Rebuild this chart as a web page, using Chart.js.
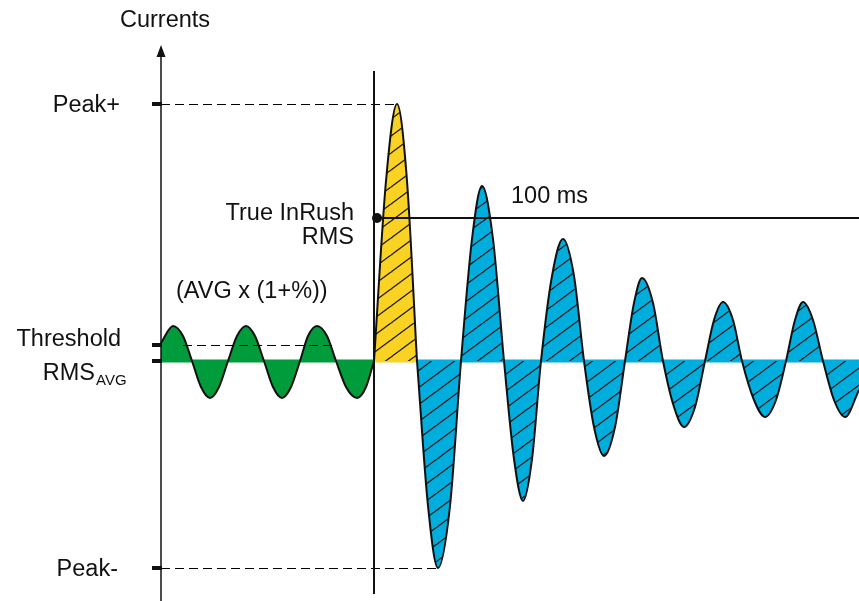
<!DOCTYPE html>
<html>
<head>
<meta charset="utf-8">
<script src="https://cdn.jsdelivr.net/npm/chart.js@4.4.1/dist/chart.umd.min.js"></script>
<style>
  html, body { margin: 0; padding: 0; background: #fff; }
  #wrap { width: 859px; height: 601px; position: relative; }
</style>
</head>
<body>
<div id="wrap"><canvas id="inrush"></canvas></div>
<script>
// Steady state before the inrush (green)
const greenTimes = [161, 173, 183, 192, 201, 210, 219, 228, 237, 246, 255, 264, 273, 282, 291, 300, 308, 317, 327, 336, 346, 357, 366, 374];
const greenCurrents = [18, 35, 25, 0, -26, -37, -26, 0, 25, 35, 25, 0, -26, -37, -26, 0, 25, 35, 25, 0, -26, -37, -26, 0];

// First half cycle of the inrush (yellow)
const yellowTimes = [374, 386, 397, 407, 417];
const yellowCurrents = [0, 180, 257, 180, 0];

// Damped oscillation afterwards (blue)
const blueTimes = [417, 428, 438, 450, 461, 472, 482, 493, 504, 514, 523, 532, 541, 552, 563, 574, 584,
    594, 604, 615, 625, 634, 642, 653, 663, 674, 684, 695, 705, 714, 723, 733, 742,
    754, 765, 776, 786, 795, 803, 813, 823, 834, 845, 859];
const blueCurrents = [0, -145, -207, -145, 0, 122, 175, 122, 0, -98, -140, -98, 0, 85, 122, 85, 0,
    -66, -95, -66, 0, 58, 83, 58, 0, -46, -66, -46, 0, 41, 59, 41, 0,
    -39, -56, -39, 0, 41, 59, 41, 0, -39, -56, -29];

// Levels marked on the current axis
const levelNames = ['Peak+', 'Threshold', 'RMS', 'Peak-'];
const levelValues = [257, 16, 0, -207];
const trueInrushRms = 143;
const inrushStart = 374;
const windowEnd = 859;

const GREEN = 'rgb(0,155,58)';
const YELLOW = 'rgb(250,210,35)';
const BLUE = 'rgb(0,174,222)';
const FONT = '"Liberation Sans", Arial, sans-serif';

function toPoints(xs, ys) {
    return xs.map((x, i) => ({ x: x, y: ys[i] }));
}

// hachures diagonales
function hatch(color) {
    const w = 23, h = 17;
    const c = document.createElement('canvas');
    c.width = w; c.height = h;
    const g = c.getContext('2d');
    g.fillStyle = color;
    g.fillRect(0, 0, w, h);
    g.strokeStyle = '#1a1a1a';
    g.lineWidth = 1.3;
    g.beginPath();
    [-1, 0, 1].forEach(k => {
        g.moveTo(k * w, h);
        g.lineTo(k * w + w, 0);
    });
    g.moveTo(-w, 2 * h); g.lineTo(w, 0);
    g.moveTo(0, 0); g.lineTo(2 * w, -h);
    g.stroke();
    return document.getElementById('inrush').getContext('2d').createPattern(c, 'repeat');
}

function wave(label, xs, ys, color) {
    return {
        label: label,
        data: toPoints(xs, ys),
        borderColor: '#111',
        borderWidth: 2,
        backgroundColor: hatch(color),
        fill: 'origin',
        cubicInterpolationMode: 'monotone',
        pointRadius: 0,
        order: 1
    };
}

function band(xs, color) {
    return {
        label: 'band',
        data: toPoints(xs, [0, 0]),
        borderColor: color,
        borderWidth: 3,
        fill: false,
        pointRadius: 0,
        order: 2
    };
}

const greenWave = wave('steady', greenTimes, greenCurrents, GREEN);
greenWave.backgroundColor = GREEN;

const annotations = {
    id: 'annotations',
    afterDatasetsDraw(chart) {
        const ctx = chart.ctx;
        const xs = chart.scales.x, ys = chart.scales.y;
        const ax = xs.getPixelForValue(greenTimes[0]);
        const top = chart.chartArea.top, bottom = chart.chartArea.bottom;
        ctx.save();
        ctx.strokeStyle = '#111';
        ctx.fillStyle = '#111';

        // axe des courants
        ctx.lineWidth = 1.5;
        ctx.beginPath();
        ctx.moveTo(ax, bottom);
        ctx.lineTo(ax, top + 52);
        ctx.stroke();
        ctx.beginPath();
        ctx.moveTo(ax, top + 45);
        ctx.lineTo(ax - 4.5, top + 57);
        ctx.lineTo(ax + 4.5, top + 57);
        ctx.closePath();
        ctx.fill();

        // ticks
        ctx.lineWidth = 4;
        levelValues.forEach(v => {
            const py = ys.getPixelForValue(v);
            ctx.beginPath();
            ctx.moveTo(ax - 9, py);
            ctx.lineTo(ax + 1, py);
            ctx.stroke();
        });

        // pointillés
        ctx.lineWidth = 1;
        ctx.strokeStyle = '#000';
        ctx.setLineDash([9, 5]);
        const dash = (x0, x1, v) => {
            const py = Math.round(ys.getPixelForValue(v)) + 0.5;
            ctx.beginPath();
            ctx.moveTo(xs.getPixelForValue(x0), py);
            ctx.lineTo(xs.getPixelForValue(x1), py);
            ctx.stroke();
        };
        dash(greenTimes[0], yellowTimes[2], levelValues[0]);
        dash(183, 332, levelValues[1]);
        dash(greenTimes[0], blueTimes[2], levelValues[3]);
        ctx.setLineDash([]);
        ctx.strokeStyle = '#111';

        // début de l'appel de courant
        const vx = xs.getPixelForValue(inrushStart);
        ctx.lineWidth = 2;
        ctx.beginPath();
        ctx.moveTo(vx, top + 71);
        ctx.lineTo(vx, bottom - 7);
        ctx.stroke();

        // fenêtre 100 ms
        const ry = ys.getPixelForValue(trueInrushRms);
        ctx.beginPath();
        ctx.moveTo(vx + 3, ry);
        ctx.lineTo(xs.getPixelForValue(windowEnd), ry);
        ctx.stroke();
        ctx.beginPath();
        ctx.arc(vx + 3, ry, 5, 0, Math.PI * 2);
        ctx.fill();

        // textes
        ctx.textBaseline = 'middle';
        ctx.font = '23.5px ' + FONT;
        ctx.textAlign = 'center';
        ctx.fillText('Currents', ax + 4, top + 21);
        ctx.textAlign = 'right';
        ctx.fillText(levelNames[0], ax - 41, ys.getPixelForValue(levelValues[0]) + 2);
        ctx.fillText(levelNames[1], ax - 40, ys.getPixelForValue(levelValues[1]) - 5);
        ctx.fillText(levelNames[3], ax - 43, ys.getPixelForValue(levelValues[3]) + 2);
        const rmsY = ys.getPixelForValue(levelValues[2]) + 13;
        ctx.fillText(levelNames[2], ax - 66, rmsY);
        ctx.font = '15px ' + FONT;
        ctx.textAlign = 'left';
        ctx.fillText('AVG', ax - 65, rmsY + 7);

        ctx.font = '23.5px ' + FONT;
        ctx.textAlign = 'right';
        ctx.fillText('True InRush', vx - 20, ry - 4);
        ctx.fillText('RMS', vx - 20, ry + 20);
        ctx.textAlign = 'left';
        ctx.fillText('(AVG x (1+%))', xs.getPixelForValue(176), ys.getPixelForValue(69));
        ctx.fillText('100 ms', xs.getPixelForValue(511), ry - 21);
        ctx.restore();
    }
};

new Chart(document.getElementById('inrush'), {
    type: 'line',
    data: {
        datasets: [
            greenWave,
            wave('inrush', yellowTimes, yellowCurrents, YELLOW),
            wave('damped', blueTimes, blueCurrents, BLUE),
            band([greenTimes[0], inrushStart], GREEN),
            band([yellowTimes[0], yellowTimes[yellowTimes.length - 1]], YELLOW),
            band([blueTimes[0], windowEnd], BLUE)
        ]
    },
    options: {
        responsive: true,
        maintainAspectRatio: false,
        animation: false,
        events: [],
        layout: { padding: 0 },
        plugins: {
            legend: { display: false },
            tooltip: { enabled: false }
        },
        scales: {
            x: { type: 'linear', min: 0, max: 859, display: false },
            y: { type: 'linear', min: -240, max: 361, display: false }
        }
    },
    plugins: [annotations]
});
</script>
</body>
</html>
